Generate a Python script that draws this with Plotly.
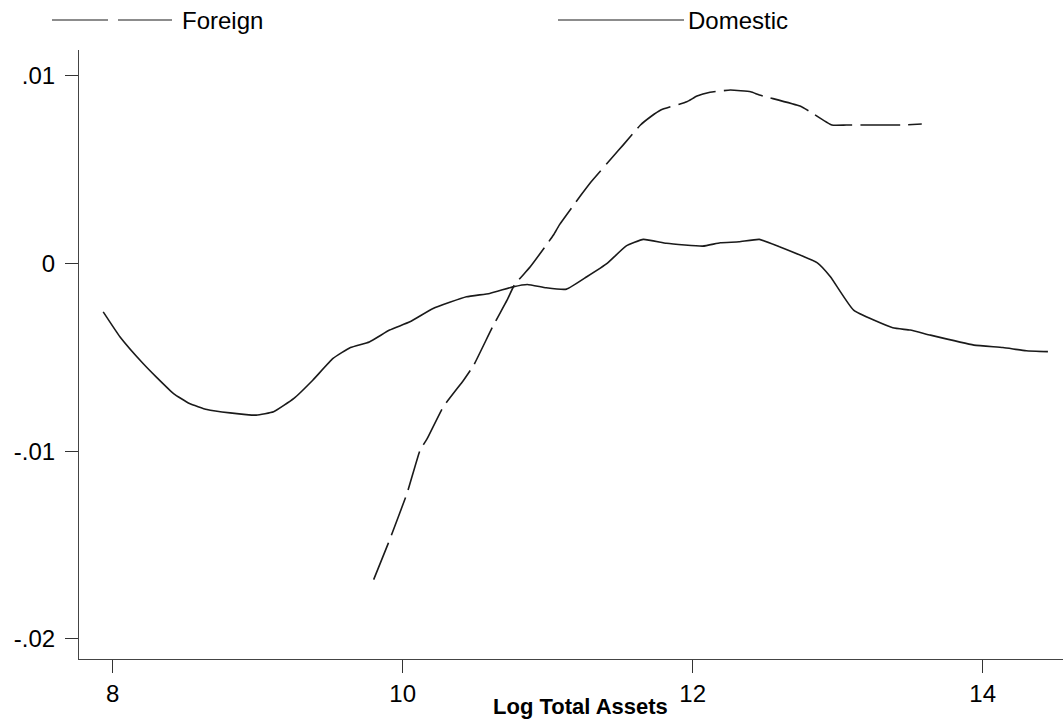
import plotly.graph_objects as go

# Smoothed estimates against log total assets
domestic_x = [7.935, 8.05, 8.21, 8.30, 8.42, 8.53, 8.65, 8.81, 8.99, 9.11, 9.25, 9.38,
              9.52, 9.64, 9.77, 9.91, 10.05, 10.21, 10.44, 10.60, 10.76, 10.86, 10.99,
              11.13, 11.27, 11.41, 11.54, 11.66, 11.82, 12.07, 12.19, 12.32, 12.46,
              12.60, 12.86, 12.95, 13.11, 13.38, 13.50, 13.64, 13.94, 14.14, 14.30, 14.45]
domestic_y = [-0.00258, -0.0039, -0.00533, -0.00604, -0.00693, -0.00746, -0.00778,
              -0.00796, -0.00808, -0.0079, -0.00719, -0.00622, -0.00506, -0.00448,
              -0.00418, -0.00355, -0.00311, -0.0024, -0.00178, -0.0016, -0.00125,
              -0.00112, -0.0013, -0.00137, -0.00071, 0.0, 0.00092, 0.00128, 0.00107,
              0.00092, 0.0011, 0.00115, 0.00128, 0.00088, 0.00003, -0.00071, -0.00249,
              -0.00343, -0.00355, -0.00382, -0.00435, -0.00448, -0.00465, -0.0047]

foreign_x = [9.80, 9.90, 10.03, 10.12, 10.17, 10.28, 10.42, 10.49, 10.62, 10.72, 10.77,
             10.88, 11.04, 11.08, 11.23, 11.30, 11.46, 11.52, 11.64, 11.71, 11.78, 11.96,
             12.03, 12.12, 12.26, 12.40, 12.46, 12.74, 12.81, 12.96, 13.06, 13.20, 13.43,
             13.58]
foreign_y = [-0.01684, -0.01492, -0.01225, -0.00995, -0.00932, -0.00764, -0.00622,
             -0.00542, -0.00338, -0.00196, -0.00116, -0.00018, 0.00151, 0.00204, 0.00364,
             0.00435, 0.00577, 0.0063, 0.00737, 0.00781, 0.00817, 0.00861, 0.00891,
             0.00911, 0.00923, 0.00914, 0.00897, 0.00838, 0.00808, 0.00737, 0.00737,
             0.00737, 0.00737, 0.00742]

x_ticks = [8, 10, 12, 14]
y_ticks = [0.01, 0.0, -0.01, -0.02]
y_tick_text = [".01", "0", "-.01", "-.02"]

FONT = "Liberation Sans, Arial, sans-serif"
INK = "#1a1a1a"

# plot region in pixels: left 79, width 984, top 50, height 609
def px_x(p):
    return (p - 79) / 984


def px_y(p):
    return 1 - (p - 50) / 609


fig = go.Figure()
fig.add_trace(go.Scatter(x=foreign_x, y=foreign_y, mode="lines", name="Foreign",
                         line=dict(color=INK, width=1.6, dash="40px,8px", shape="spline",
                                   smoothing=0.4)))
fig.add_trace(go.Scatter(x=domestic_x, y=domestic_y, mode="lines", name="Domestic",
                         line=dict(color=INK, width=1.6, shape="spline", smoothing=0.4)))

# key drawn above the plot region
key_y = px_y(20)
for a, b in [(52, 108), (118, 172), (558, 684)]:
    fig.add_shape(type="line", xref="paper", yref="paper", x0=px_x(a), x1=px_x(b),
                  y0=key_y, y1=key_y, line=dict(color=INK, width=1.2))
fig.add_annotation(text="Foreign", xref="paper", yref="paper", x=px_x(180), y=key_y,
                   xanchor="left", yanchor="middle", showarrow=False,
                   font=dict(family=FONT, size=24, color="black"))
fig.add_annotation(text="Domestic", xref="paper", yref="paper", x=px_x(686), y=key_y,
                   xanchor="left", yanchor="middle", showarrow=False,
                   font=dict(family=FONT, size=24, color="black"))

# axis title
fig.add_annotation(text="<b>Log Total Assets</b>", xref="paper", yref="paper", x=px_x(580),
                   y=px_y(707), xanchor="center", yanchor="middle", showarrow=False,
                   font=dict(family=FONT, size=22, color="black"))

fig.update_layout(
    width=1063, height=726,
    margin=dict(l=79, r=0, t=50, b=67),
    paper_bgcolor="white", plot_bgcolor="white",
    showlegend=False,
    font=dict(family=FONT, size=24, color="black"),
    xaxis=dict(range=[7.768, 14.554], tickvals=x_ticks, ticks="outside", ticklen=13,
               tickwidth=1, tickcolor="#333", showline=True, linecolor="#444", linewidth=1,
               showgrid=False, zeroline=False, tickfont=dict(size=24)),
    yaxis=dict(range=[-0.021066, 0.011364], tickvals=y_ticks, ticktext=y_tick_text,
               ticks="outside", ticklen=13, tickwidth=1, tickcolor="#333", showline=True,
               linecolor="#444", linewidth=1, showgrid=False, zeroline=False,
               tickfont=dict(size=24), ticklabelstandoff=5),
)

fig.write_html("out.html")
